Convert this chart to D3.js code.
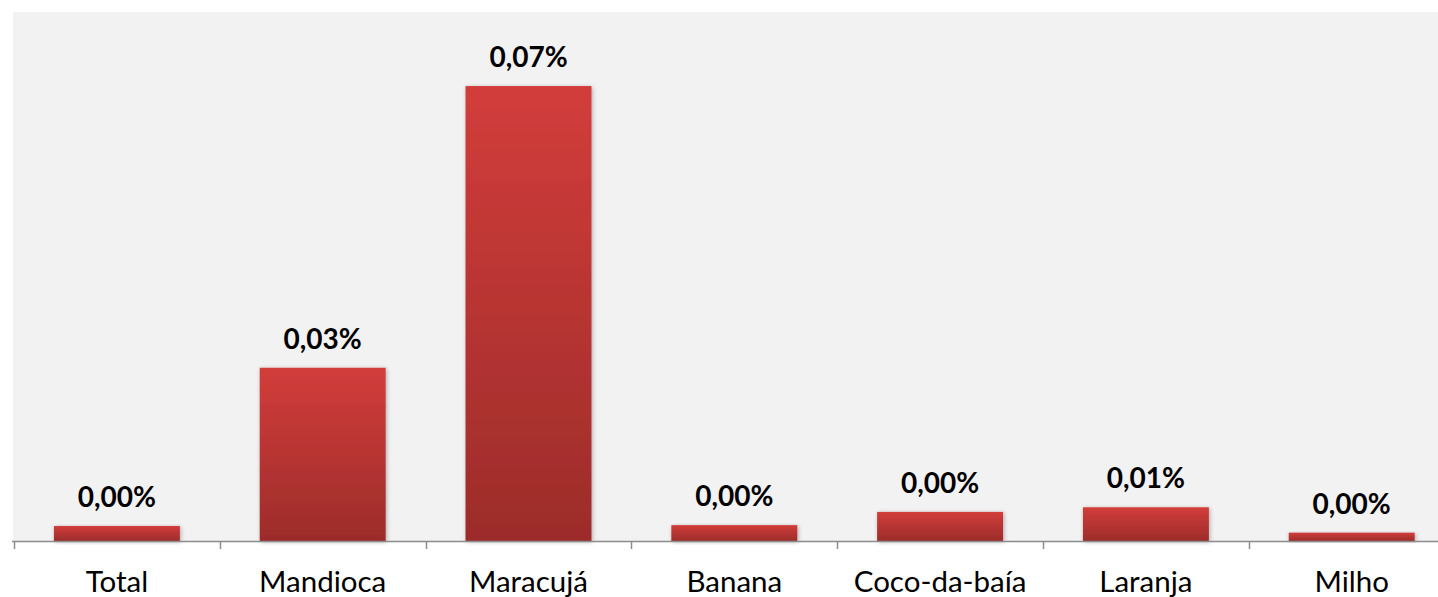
<!DOCTYPE html>
<html>
<head>
<meta charset="utf-8">
<script src="https://cdn.jsdelivr.net/npm/d3@7"></script>
<style>
	body{margin:0;background:#fff;}
	svg{display:block;}
</style>
</head>
<body>
<div id="chart"></div>
<script>
var categories = ["Total", "Mandioca", "Maracujá", "Banana", "Coco-da-baía", "Laranja", "Milho"];
var values = [0.00227, 0.0262, 0.0688, 0.0024, 0.0044, 0.0051, 0.00126];
var labels = ["0,00%", "0,03%", "0,07%", "0,00%", "0,00%", "0,01%", "0,00%"];
var yMax = 0.08;

var W = 1438, H = 597;
var plot = {left: 14, top: 12, bottom: 541, step: 205.8};

var svg = d3.select('#chart').append('svg')
	.attr('width', W)
	.attr('height', H);

var defs = svg.append('defs');
var grad = defs.append('linearGradient')
	.attr('id', 'barGrad')
	.attr('x1', 0).attr('y1', 0).attr('x2', 0).attr('y2', 1);
grad.append('stop').attr('offset', '0%').attr('stop-color', '#d23d3b');
grad.append('stop').attr('offset', '100%').attr('stop-color', '#9c2c2a');

var shadow = defs.append('filter').attr('id', 'shadow')
	.attr('x', '-10%').attr('y', '-10%').attr('width', '120%').attr('height', '130%');
shadow.append('feDropShadow')
	.attr('dx', 1).attr('dy', 1).attr('stdDeviation', 2)
	.attr('flood-color', '#000').attr('flood-opacity', 0.3);

// plot area background
svg.append('rect')
	.attr('x', 13).attr('y', plot.top)
	.attr('width', W - 13).attr('height', plot.bottom - plot.top)
	.attr('fill', '#f2f2f2');

var x = d3.scaleBand()
	.domain(categories)
	.range([plot.left, plot.left + plot.step * categories.length])
	.paddingInner(0.388)
	.paddingOuter(0.194);

var y = d3.scaleLinear()
	.domain([0, yMax])
	.range([plot.bottom, plot.top]);

// bars
svg.append('g').selectAll('rect')
	.data(values)
	.enter().append('rect')
	.attr('x', function(d, i){ return x(categories[i]); })
	.attr('y', function(d){ return y(d); })
	.attr('width', x.bandwidth())
	.attr('height', function(d){ return plot.bottom - y(d); })
	.attr('fill', 'url(#barGrad)')
	.attr('filter', 'url(#shadow)');

// value labels
svg.append('g').selectAll('text')
	.data(values)
	.enter().append('text')
	.attr('x', function(d, i){ return x(categories[i]) + x.bandwidth() / 2; })
	.attr('y', function(d){ return y(d) - 19; })
	.attr('text-anchor', 'middle')
	.attr('font-family', 'Lato, "Open Sans", sans-serif')
	.attr('font-weight', 'bold')
	.attr('font-size', '28px')
	.attr('fill', '#000')
	.text(function(d, i){ return labels[i]; });

// x axis
var axisScale = d3.scalePoint()
	.domain(d3.range(categories.length + 1))
	.range([plot.left, plot.left + plot.step * categories.length]);
var axis = svg.append('g');
axis.append('line')
	.attr('x1', 12).attr('x2', W)
	.attr('y1', plot.bottom + 0.5).attr('y2', plot.bottom + 0.5)
	.attr('stroke', '#8c8c8c').attr('stroke-width', 1.5);
axis.selectAll('.tick')
	.data(axisScale.domain())
	.enter().append('line')
	.attr('x1', function(d){ return Math.round(axisScale(d)) + 0.5; })
	.attr('x2', function(d){ return Math.round(axisScale(d)) + 0.5; })
	.attr('y1', plot.bottom)
	.attr('y2', plot.bottom + 8)
	.attr('stroke', '#8c8c8c').attr('stroke-width', 1.5);

axis.selectAll('.cat')
	.data(categories)
	.enter().append('text')
	.attr('x', function(d){ return x(d) + x.bandwidth() / 2; })
	.attr('y', 592)
	.attr('text-anchor', 'middle')
	.attr('font-family', 'Lato, "Open Sans", sans-serif')
	.attr('font-size', '29.5px')
	.attr('fill', '#000')
	.text(function(d){ return d; });
</script>
</body>
</html>
